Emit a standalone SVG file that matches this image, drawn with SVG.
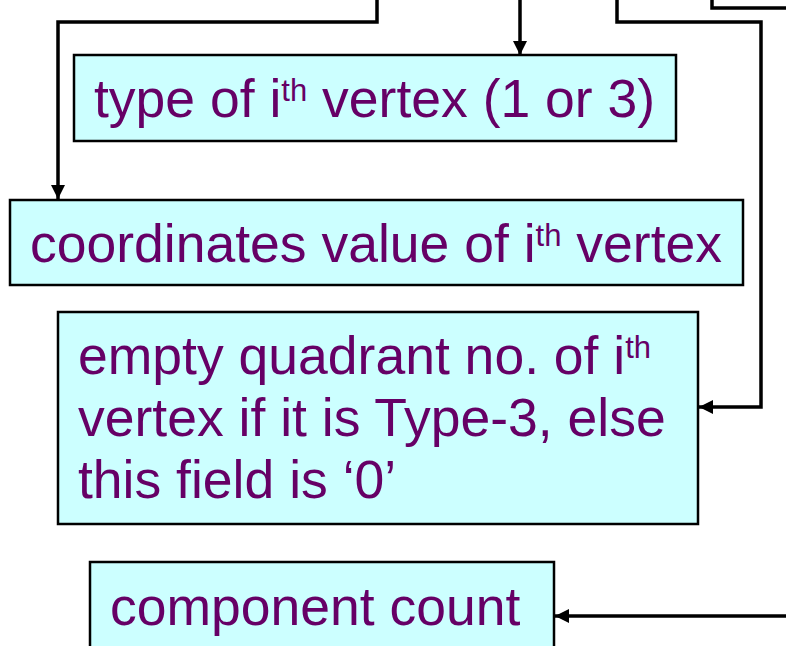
<svg xmlns="http://www.w3.org/2000/svg" width="786" height="646" viewBox="0 0 786 646">
<defs>
<style>
.box{fill:#CCFFFF;stroke:#000;stroke-width:2.5}
.t{font-family:"Liberation Sans",Arial,sans-serif;font-size:53.5px;fill:#660066}
.sup{font-size:31px}
.c{fill:none;stroke:#000;stroke-width:3.5}
</style>
<marker id="ah" viewBox="0 0 14 14" refX="14" refY="7" markerWidth="14" markerHeight="14" markerUnits="userSpaceOnUse" orient="auto">
<path d="M0,0 L14,7 L0,14 Z" fill="#000"/>
</marker>
</defs>
<rect width="786" height="646" fill="#fff"/>
<g id="connectors">
<path class="c" d="M377,0 V22 H58 V199" marker-end="url(#ah)"/>
<path class="c" d="M520,0 V55" marker-end="url(#ah)"/>
<path class="c" d="M617,0 V22 H761 V407 H699" marker-end="url(#ah)"/>
<path class="c" d="M712,0 V8 H786"/>
<path class="c" d="M786,616 H555" marker-end="url(#ah)"/>
</g>
<g id="type">
<rect class="box" x="74" y="55" width="602" height="86"/>
<text class="t" x="94" y="117">type of i<tspan class="sup" dy="-16">th</tspan><tspan dy="16"> vertex (1 or 3)</tspan></text>
</g>
<g id="coords">
<rect class="box" x="10" y="200" width="733" height="85"/>
<text class="t" x="30" y="262">coordinates value of i<tspan class="sup" dy="-16">th</tspan><tspan dy="16"> vertex</tspan></text>
</g>
<g id="quadrant">
<rect class="box" x="58" y="312" width="640" height="212"/>
<text class="t" x="78" y="374">empty quadrant no. of i<tspan class="sup" dy="-16">th</tspan></text>
<text class="t" x="78" y="436">vertex if it is Type-3, else</text>
<text class="t" x="78" y="498">this field is ‘0’</text>
</g>
<g id="count">
<rect class="box" x="90" y="562" width="464" height="100"/>
<text class="t" x="110" y="625">component count</text>
</g>
</svg>
